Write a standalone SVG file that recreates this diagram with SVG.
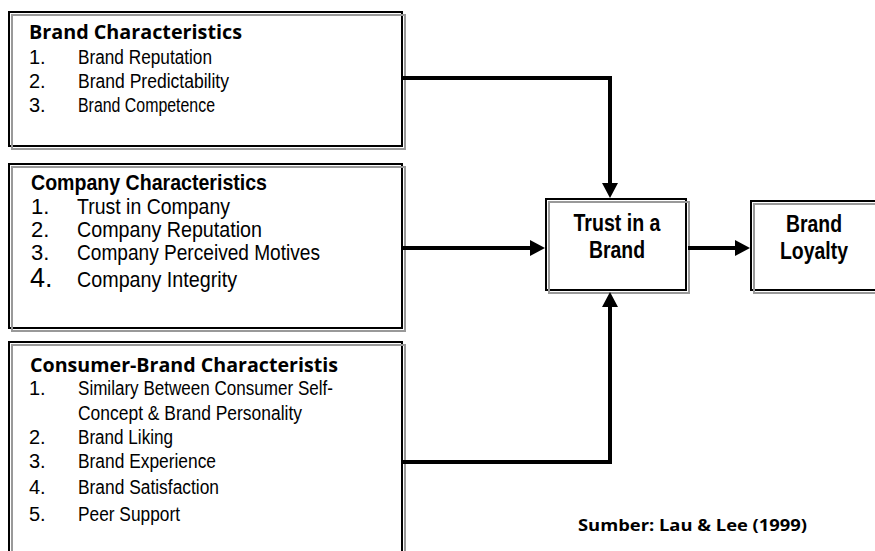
<svg xmlns="http://www.w3.org/2000/svg" width="875" height="551" viewBox="0 0 875 551">
<style>
.bk{fill:#fff;stroke:#000;stroke-width:2}
.gr{fill:none;stroke:#999;stroke-width:2}
.hd{font-family:"Open Sans","Noto Sans","DejaVu Sans",sans-serif;font-weight:700;font-size:19px;fill:#000}
.hda{font-family:"Liberation Sans Narrow","Liberation Sans",Arial,sans-serif;font-weight:700;font-size:22px;fill:#000}
.it{font-family:"Liberation Sans Narrow","Liberation Sans",Arial,sans-serif;font-size:20px;fill:#000}
.it2{font-family:"Liberation Sans Narrow","Liberation Sans",Arial,sans-serif;font-size:22px;fill:#000}
.bx{font-family:"Liberation Sans Narrow","Liberation Sans",Arial,sans-serif;font-weight:700;font-size:23px;fill:#000;text-anchor:middle}
.src{font-family:"Open Sans","Noto Sans","DejaVu Sans",sans-serif;font-weight:700;font-size:16px;fill:#000}
.cn{fill:none;stroke:#000;stroke-width:4}
</style>
<defs>
<marker id="ah" markerUnits="userSpaceOnUse" markerWidth="16" markerHeight="16" refX="0" refY="8" orient="auto" viewBox="0 0 16 16">
<path d="M0,0 L15,8 L0,16 Z" fill="#000"/>
</marker>
</defs>
<g id="brand-characteristics">
<rect class="bk" x="9" y="12" width="393" height="134"/>
<rect class="gr" x="12" y="15" width="393" height="134"/>
<text class="hd" x="29" y="39" textLength="213" lengthAdjust="spacingAndGlyphs">Brand Characteristics</text>
<text class="it" x="29" y="64">1.</text>
<text class="it" x="78" y="64" textLength="134" lengthAdjust="spacingAndGlyphs">Brand Reputation</text>
<text class="it" x="29" y="88">2.</text>
<text class="it" x="78" y="88" textLength="151" lengthAdjust="spacingAndGlyphs">Brand Predictability</text>
<text class="it" x="29" y="112">3.</text>
<text class="it" x="78" y="112" textLength="137" lengthAdjust="spacingAndGlyphs">Brand Competence</text>
</g>
<g id="company-characteristics">
<rect class="bk" x="9" y="164" width="393" height="164"/>
<rect class="gr" x="12" y="167" width="393" height="164"/>
<text class="hda" x="31" y="190" textLength="236" lengthAdjust="spacingAndGlyphs">Company Characteristics</text>
<text class="it2" x="31" y="214">1.</text>
<text class="it2" x="77" y="214" textLength="153" lengthAdjust="spacingAndGlyphs">Trust in Company</text>
<text class="it2" x="31" y="237">2.</text>
<text class="it2" x="77" y="237" textLength="185" lengthAdjust="spacingAndGlyphs">Company Reputation</text>
<text class="it2" x="31" y="260">3.</text>
<text class="it2" x="77" y="260" textLength="243" lengthAdjust="spacingAndGlyphs">Company Perceived Motives</text>
<text class="it2" x="30" y="287" style="font-size:27px">4.</text>
<text class="it2" x="77" y="287" textLength="160" lengthAdjust="spacingAndGlyphs">Company Integrity</text>
</g>
<g id="consumer-brand-characteristics">
<rect class="bk" x="9" y="342" width="393" height="240"/>
<rect class="gr" x="12" y="345" width="393" height="240"/>
<text class="hd" x="30" y="372" textLength="308" lengthAdjust="spacingAndGlyphs">Consumer-Brand Characteristis</text>
<text class="it" x="29" y="395">1.</text>
<text class="it" x="78" y="395" textLength="255" lengthAdjust="spacingAndGlyphs">Similary Between Consumer Self-</text>
<text class="it" x="78" y="420" textLength="224" lengthAdjust="spacingAndGlyphs">Concept &amp; Brand Personality</text>
<text class="it" x="29" y="444">2.</text>
<text class="it" x="78" y="444" textLength="95" lengthAdjust="spacingAndGlyphs">Brand Liking</text>
<text class="it" x="29" y="468">3.</text>
<text class="it" x="78" y="468" textLength="138" lengthAdjust="spacingAndGlyphs">Brand Experience</text>
<text class="it" x="29" y="494">4.</text>
<text class="it" x="78" y="494" textLength="141" lengthAdjust="spacingAndGlyphs">Brand Satisfaction</text>
<text class="it" x="29" y="521">5.</text>
<text class="it" x="78" y="521" textLength="102" lengthAdjust="spacingAndGlyphs">Peer Support</text>
</g>
<g id="trust-in-a-brand">
<rect class="bk" x="546" y="199" width="140" height="91"/>
<rect class="gr" x="549" y="202" width="140" height="91"/>
<text class="bx" x="617" y="231" textLength="87" lengthAdjust="spacingAndGlyphs">Trust in a</text>
<text class="bx" x="617" y="258" textLength="56" lengthAdjust="spacingAndGlyphs">Brand</text>
</g>
<g id="brand-loyalty">
<rect class="bk" x="751" y="201" width="140" height="89"/>
<rect class="gr" x="754" y="204" width="140" height="89"/>
<text class="bx" x="814" y="232" textLength="56" lengthAdjust="spacingAndGlyphs">Brand</text>
<text class="bx" x="814" y="259" textLength="68" lengthAdjust="spacingAndGlyphs">Loyalty</text>
</g>
<g id="connectors">
<path class="cn" d="M403,78 H610 V183" marker-end="url(#ah)"/>
<path class="cn" d="M403,248 H530" marker-end="url(#ah)"/>
<path class="cn" d="M688,248 H735" marker-end="url(#ah)"/>
<path class="cn" d="M403,462 H610 V307" marker-end="url(#ah)"/>
</g>
<text class="src" x="578" y="531" textLength="229" lengthAdjust="spacingAndGlyphs">Sumber: Lau &amp; Lee (1999)</text>
</svg>
